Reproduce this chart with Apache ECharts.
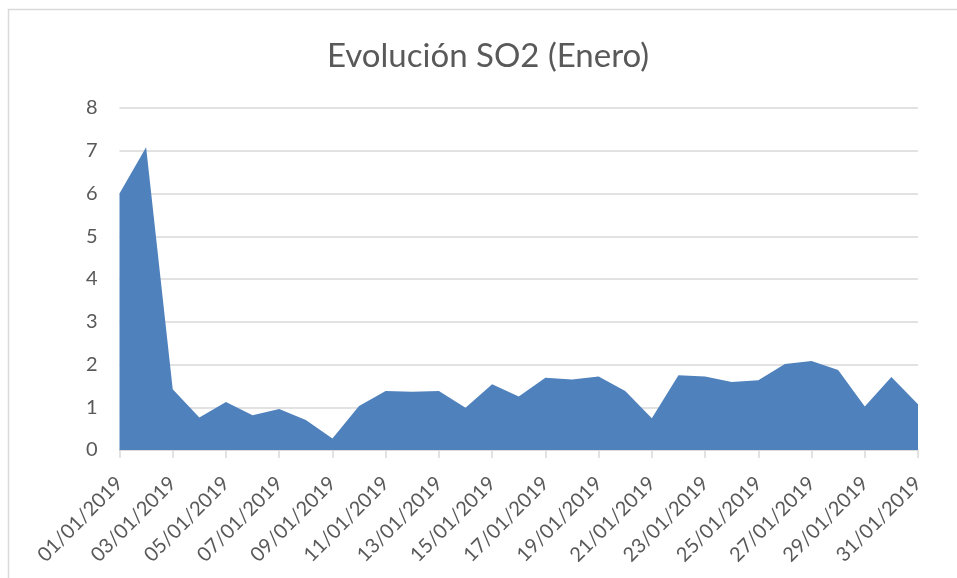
<!DOCTYPE html>
<html>
<head>
<meta charset="utf-8">
<script src="https://cdn.jsdelivr.net/npm/echarts@6/dist/echarts.min.js"></script>
<style>
  html, body { margin: 0; padding: 0; background: #fff; }
  #so2 { width: 957px; height: 578px; }
</style>
</head>
<body>
<div id="so2"></div>
<script>
// fechas de enero
var dias = [];
for (var d = 1; d <= 31; d++) {
    dias.push((d < 10 ? '0' + d : '' + d) + '/01/2019');
}
// valores de SO2
var valores = [6.0, 7.08, 1.42, 0.76, 1.12, 0.81, 0.96, 0.70, 0.27, 1.03,
               1.38, 1.36, 1.38, 0.99, 1.54, 1.25, 1.69, 1.65, 1.72, 1.38,
               0.74, 1.75, 1.72, 1.59, 1.63, 2.01, 2.08, 1.87, 1.02, 1.71,
               1.07];
var titulo = 'Evolución SO2 (Enero)';

var dom = document.getElementById("so2");
var myChart = echarts.init(dom);
var option = {
    backgroundColor: '#fff',
    animation: false,
    title: {
        text: titulo,
        left: 322,
        top: 35,
        textStyle: {
            fontFamily: 'Lato',
            fontSize: 33,
            fontWeight: 'normal',
            color: '#595959'
        }
    },
    // borde del área del gráfico
    graphic: [{
        type: 'rect',
        shape: { x: 8.5, y: 9.5, width: 980, height: 600 },
        style: { fill: 'none', stroke: '#d9d9d9', lineWidth: 1.5 },
        silent: true
    }],
    grid: {
        left: 119.5,
        right: 39,
        top: 108,
        bottom: 128
    },
    xAxis: {
        type: 'category',
        boundaryGap: false,
        data: dias,
        axisLine: { lineStyle: { color: '#d9d9d9', width: 1.5 } },
        axisTick: {
            interval: 1,
            length: 8,
            lineStyle: { color: '#d9d9d9', width: 1.5 }
        },
        axisLabel: {
            interval: 1,
            rotate: 45,
            margin: 30,
            fontFamily: 'Lato',
            fontSize: 20,
            color: '#595959'
        }
    },
    yAxis: {
        type: 'value',
        min: 0,
        max: 8,
        interval: 1,
        axisLine: { show: false },
        axisTick: { show: false },
        axisLabel: {
            margin: 22,
            fontFamily: 'Lato',
            fontSize: 20,
            color: '#595959'
        },
        splitLine: { lineStyle: { color: '#d9d9d9', width: 1.5 } }
    },
    series: [{
        type: 'line',
        data: valores,
        symbol: 'none',
        lineStyle: { width: 0 },
        areaStyle: { color: '#4f81bd', opacity: 1 }
    }]
};
if (option && typeof option === "object") {
    myChart.setOption(option, true);
}
</script>
</body>
</html>
